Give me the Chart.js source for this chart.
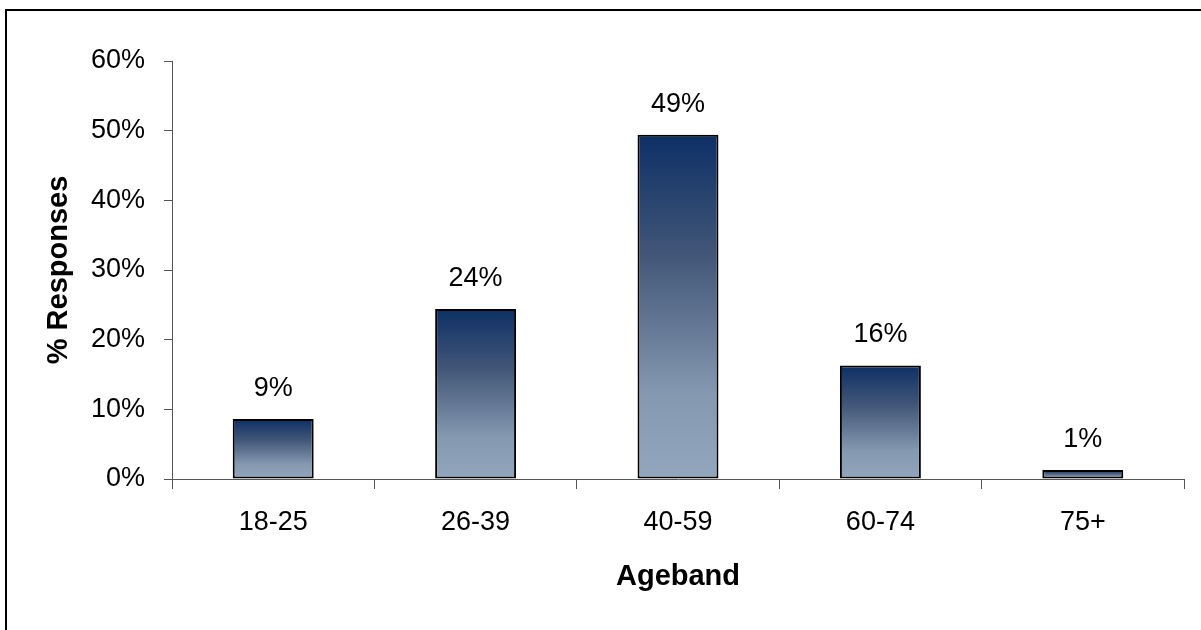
<!DOCTYPE html>
<html>
<head>
<meta charset="utf-8">
<script src="https://cdn.jsdelivr.net/npm/chart.js@4.4.1/dist/chart.umd.min.js"></script>
<style>
  html, body { margin: 0; padding: 0; background: #fff; overflow: hidden; }
  #wrap { position: relative; width: 1201px; height: 630px; }
  #frame {
    position: absolute; left: 5px; top: 9px; width: 1240px; height: 660px;
    border-left: 2px solid #000; border-top: 2px solid #000; box-sizing: border-box;
  }
  canvas { position: absolute; left: 0; top: 0; }
</style>
</head>
<body>
<div id="wrap">
  <div id="frame"></div>
  <canvas id="chart" width="1201" height="630"></canvas>
</div>
<script>
// Age bands and share of responses (%)
const ageBands = ['18-25', '26-39', '40-59', '60-74', '75+'];
const responseShare = [8.6, 24.4, 49.4, 16.3, 1.3];
const yTicks = [0, 10, 20, 30, 40, 50, 60];

const FONT = 'Liberation Sans, Arial, Helvetica, sans-serif';

// Vertical navy-to-steel gradient spanning each bar's own height
function barGradient(context) {
  const chart = context.chart;
  const area = chart.chartArea;
  if (!area || context.type !== 'data') return '#8aa0b8';
  const yScale = chart.scales.y;
  const v = responseShare[context.dataIndex];
  const top = yScale.getPixelForValue(v);
  const bottom = yScale.getPixelForValue(0);
  const g = chart.ctx.createLinearGradient(0, top, 0, bottom);
  g.addColorStop(0, '#0d3065');
  g.addColorStop(0.35, '#425678');
  g.addColorStop(0.75, '#8498b0');
  g.addColorStop(1, '#92a6bd');
  return g;
}

// Percentage labels above each bar
const valueLabels = {
  id: 'valueLabels',
  afterDatasetsDraw(chart) {
    const ctx = chart.ctx;
    const meta = chart.getDatasetMeta(0);
    ctx.save();
    ctx.font = '27px ' + FONT;
    ctx.fillStyle = '#000';
    ctx.textAlign = 'center';
    ctx.textBaseline = 'alphabetic';
    meta.data.forEach((bar, i) => {
      ctx.fillText(Math.round(responseShare[i]) + '%', bar.x, bar.y - 23);
    });
    ctx.restore();
  }
};

new Chart(document.getElementById('chart'), {
  type: 'bar',
  data: {
    labels: ageBands,
    datasets: [{
      data: responseShare,
      backgroundColor: barGradient,
      borderColor: '#000',
      borderWidth: 2,
      borderSkipped: false,
      barPercentage: 0.4,
      categoryPercentage: 1.0
    }]
  },
  options: {
    responsive: false,
    animation: false,
    layout: { padding: { top: 61, right: 17, bottom: 0, left: 0 } },
    plugins: {
      legend: { display: false },
      tooltip: { enabled: false }
    },
    scales: {
      x: {
        grid: {
          display: true,
          drawOnChartArea: false,
          drawTicks: true,
          tickLength: 10,
          color: '#555',
          offset: true
        },
        border: { display: true, color: '#555', width: 1 },
        ticks: {
          color: '#000',
          font: { family: FONT, size: 27 },
          padding: 17,
          maxRotation: 0
        },
        title: {
          display: true,
          text: 'Ageband',
          color: '#000',
          font: { family: FONT, size: 29, weight: 'bold' },
          padding: { top: 0, bottom: 36 }
        },
        afterFit(scale) { scale.height = 151; }
      },
      y: {
        min: 0,
        max: 60,
        afterBuildTicks(scale) { scale.ticks = yTicks.map(v => ({ value: v })); },
        grid: {
          display: true,
          drawOnChartArea: false,
          drawTicks: true,
          tickLength: 8,
          color: '#555'
        },
        border: { display: true, color: '#555', width: 1 },
        ticks: {
          color: '#000',
          font: { family: FONT, size: 27 },
          padding: 19,
          callback: v => v + '%'
        },
        title: {
          display: true,
          text: '% Responses',
          color: '#000',
          font: { family: FONT, size: 29, weight: 'bold' },
          padding: { top: 42, bottom: 0 }
        },
        afterFit(scale) { scale.width = 172; }
      }
    }
  },
  plugins: [valueLabels]
});
</script>
</body>
</html>
